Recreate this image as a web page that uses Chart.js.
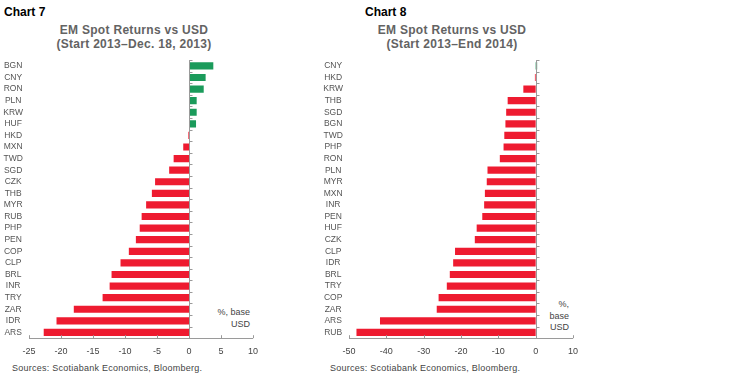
<!DOCTYPE html>
<html>
<head>
<meta charset="utf-8">
<script src="https://cdn.jsdelivr.net/npm/chart.js@4"></script>
<style>
  body { margin: 0; background: #fff; font-family: "Liberation Sans", Arial, sans-serif; }
  #page { position: relative; width: 750px; height: 379px; overflow: hidden; }
  .abs { position: absolute; white-space: nowrap; }
  .num { font-family: "Liberation Sans Narrow", "Liberation Sans", Arial, sans-serif; font-weight: bold; font-size: 12px; color: #000; }
  .title { font-weight: bold; font-size: 12px; color: #636363; text-align: center; line-height: 14px; letter-spacing: 0.3px; }
  .unit { font-size: 9px; color: #444; text-align: right; line-height: 11.5px; }
  .src { font-size: 9px; color: #444; letter-spacing: 0.25px; }
  canvas { position: absolute; }
</style>
</head>
<body>
<div id="page">
  <div class="abs num" style="left:4px; top:5px;">Chart 7</div>
  <div class="abs title" style="left:34px; width:200px; top:23px;">EM Spot Returns vs USD<br>(Start 2013–Dec. 18, 2013)</div>
  <div class="abs unit" style="left:200px; width:50px; top:307px;">%, base<br>USD</div>
  <div class="abs src" style="left:12px; top:363px;">Sources: Scotiabank Economics, Bloomberg.</div>
  <canvas id="c7" width="266" height="324" style="left:0; top:49px;"></canvas>

  <div class="abs num" style="left:365px; top:5px;">Chart 8</div>
  <div class="abs title" style="left:352px; width:200px; top:23px;">EM Spot Returns vs USD<br>(Start 2013–End 2014)</div>
  <div class="abs unit" style="left:520px; width:49px; top:299px;">%,<br>base<br>USD</div>
  <div class="abs src" style="left:330px; top:363px;">Sources: Scotiabank Economics, Bloomberg.</div>
  <canvas id="c8" width="266" height="324" style="left:320px; top:49px;"></canvas>
</div>
<script>
// Chart 7: start 2013 to Dec. 18, 2013 (%, base USD)
const cats7 = ["BGN", "CNY", "RON", "PLN", "KRW", "HUF", "HKD", "MXN", "TWD", "SGD", "CZK", "THB",
  "MYR", "RUB", "PHP", "PEN", "COP", "CLP", "BRL", "INR", "TRY", "ZAR", "IDR", "ARS"];
const vals7 = [3.8, 2.6, 2.3, 1.2, 1.2, 1.1, -0.1, -0.9, -2.4, -3.1, -5.3, -5.8,
  -6.7, -7.4, -7.7, -8.3, -9.4, -10.7, -12.1, -12.4, -13.5, -18.0, -20.7, -22.7];

// Chart 8: start 2013 to end 2014
const cats8 = ["CNY", "HKD", "KRW", "THB", "SGD", "BGN", "TWD", "PHP", "RON", "PLN", "MYR", "MXN",
  "INR", "PEN", "HUF", "CZK", "CLP", "IDR", "BRL", "TRY", "COP", "ZAR", "ARS", "RUB"];
const vals8 = [0.4, -0.2, -3.3, -7.5, -7.9, -8.1, -8.4, -8.6, -9.6, -12.9, -13.1, -13.6,
  -13.8, -14.3, -15.8, -16.3, -21.6, -22.1, -23.0, -23.8, -26.0, -26.5, -41.7, -48.0];

const GREEN = "#1b9b5b";
const RED = "#ee1b30";
const AXIS = "#9a9a9a";

// zero line with little ticks at category boundaries, plus inward ticks on the value axis
const axisMarks = {
  id: "axisMarks",
  afterDatasetsDraw(chart) {
    const { ctx, chartArea: a, scales: { x, y } } = chart;
    const x0 = Math.round(x.getPixelForValue(0)) + 0.5;
    ctx.save();
    ctx.strokeStyle = AXIS;
    ctx.lineWidth = 1;
    ctx.beginPath();
    ctx.moveTo(x0, a.top);
    ctx.lineTo(x0, a.bottom);
    const n = chart.data.labels.length;
    for (let i = 0; i <= n; i++) {
      const py = Math.round(y.getPixelForValue(i - 0.5)) + 0.5;
      ctx.moveTo(x0, py);
      ctx.lineTo(x0 + 3, py);
    }
    x.ticks.forEach((t) => {
      const px = Math.round(x.getPixelForValue(t.value)) + 0.5;
      ctx.moveTo(px, a.bottom);
      ctx.lineTo(px, a.bottom - 3);
    });
    ctx.stroke();
    ctx.restore();
  },
};

function makeChart(id, cats, vals, min, max, step, yWidth) {
  return new Chart(document.getElementById(id), {
    type: "bar",
    data: {
      labels: cats,
      datasets: [{
        data: vals,
        backgroundColor: vals.map((v) => (v >= 0 ? GREEN : RED)),
        barPercentage: 0.62,
        categoryPercentage: 1,
      }],
    },
    options: {
      indexAxis: "y",
      responsive: false,
      animation: false,
      layout: { padding: { top: 4, bottom: 8, right: 6, left: 0 } },
      plugins: { legend: { display: false }, tooltip: { enabled: false } },
      scales: {
        x: {
          min, max,
          ticks: { stepSize: step, color: "#444", padding: 8, font: { size: 9, family: "Liberation Sans" } },
          grid: { display: false, drawTicks: false },
          border: { display: true, color: AXIS },
        },
        y: {
          ticks: { color: "#555", padding: 6, crossAlign: "center", autoSkip: false,
            font: { size: 8.5, family: "Liberation Sans" } },
          grid: { display: false, drawTicks: false },
          border: { display: false },
          afterFit: (s) => { s.width = yWidth; },
        },
      },
    },
    plugins: [axisMarks],
  });
}

makeChart("c7", cats7, vals7, -25, 10, 5, 29);
makeChart("c8", cats8, vals8, -50, 10, 10, 29);
</script>
</body>
</html>
